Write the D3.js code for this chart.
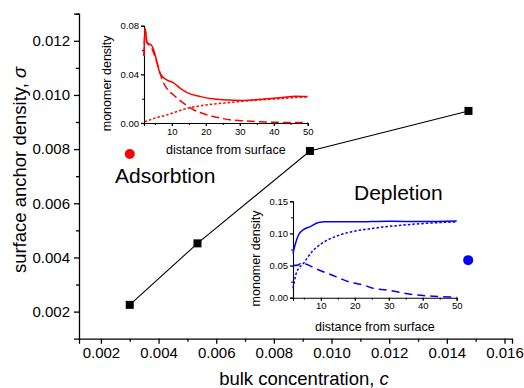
<!DOCTYPE html>
<html>
<head>
<meta charset="utf-8">
<script src="https://cdn.jsdelivr.net/npm/d3@7"></script>
<style>
  body { margin: 0; background: #fff; }
  svg text { font-family: Arial, "Liberation Sans", sans-serif; fill: #000; }
</style>
</head>
<body>
<svg id="chart" width="524" height="388"></svg>
<script>
// main plot data
const bulkConc = [0.003, 0.00535, 0.00925, 0.01475];
const anchorDensity = [0.00225, 0.00452, 0.00793, 0.00941];
const xTicks = [0.002, 0.004, 0.006, 0.008, 0.010, 0.012, 0.014, 0.016];
const yTicks = [0.002, 0.004, 0.006, 0.008, 0.010, 0.012];
const adsorbDot = [0.003, 0.00782];
const depleteDot = [0.01474, 0.0039];

// adsorption inset (red)
const adsDist = [1.8, 2.1, 2.7, 4, 5, 5.7, 6.5, 8.5, 10.5, 12.5, 14.5, 18.5, 22.5, 27, 30.5, 36.5, 42.5, 46.5, 50];
const adsTotal = [0.055, 0.078, 0.066, 0.064, 0.057, 0.049, 0.041, 0.0354, 0.033, 0.0285, 0.025, 0.0217, 0.0197, 0.0189, 0.0186, 0.0195, 0.021, 0.022, 0.0217];
const adsLoopDist = [1.8, 2.1, 2.7, 4, 4.5, 6, 7, 8.5, 10.5, 13.5, 16.5, 20.5, 24.5, 27.5, 30.5, 36, 42, 50];
const adsLoops = [0.055, 0.077, 0.066, 0.062, 0.0587, 0.046, 0.0367, 0.0285, 0.023, 0.0162, 0.0107, 0.0066, 0.0039, 0.0025, 0.0019, 0.001, 0.0005, 0.0003];
const adsTailDist = [2, 5, 8.5, 10, 14.5, 20, 25, 30, 35, 40, 45, 50];
const adsTails = [0.001, 0.004, 0.0066, 0.008, 0.012, 0.0148, 0.0163, 0.0177, 0.0188, 0.0197, 0.0207, 0.0215];

// depletion inset (blue)
const depDist = [1.8, 2.4, 3.4, 4.9, 6.9, 9.3, 11.3, 20, 30, 40, 50];
const depTotal = [0.069, 0.082, 0.0975, 0.106, 0.1105, 0.117, 0.118, 0.118, 0.119, 0.1185, 0.1195];
const depLoopDist = [1.8, 3.4, 4.2, 4.9, 8.8, 14.2, 19.1, 22.5, 25.5, 29.4, 36.3, 43.1, 50];
const depLoops = [0.05, 0.051, 0.054, 0.0535, 0.0445, 0.0332, 0.0235, 0.0198, 0.0145, 0.012, 0.0053, 0.0022, 0.0008];
const depTailDist = [1.8, 2.9, 4.9, 7.4, 10.3, 14.2, 19.1, 25.5, 34.3, 44.1, 50];
const depTails = [0.0146, 0.040, 0.0535, 0.0716, 0.0846, 0.095, 0.1027, 0.108, 0.113, 0.1167, 0.118];

const insetXTicks = [10, 20, 30, 40, 50];
const insetXMinor = [5, 15, 25, 35, 45];
const adsYTicks = [0, 0.04, 0.08];
const adsYMinor = [0.02, 0.06];
const depYTicks = [0, 0.05, 0.10, 0.15];
const depYMinor = [0.025, 0.075, 0.125];

const svg = d3.select("#chart");

// ---- main axes
const x = d3.scaleLinear().domain([0.00124, 0.01626]).range([79, 512]);
const y = d3.scaleLinear().domain([0.001, 0.013]).range([338.7, 13.7]);

const xMinor = d3.range(0.003, 0.0155, 0.002);
const yMinor = d3.range(0.003, 0.0135, 0.002);

function styleAxis(g, size) {
  g.select(".domain").attr("stroke", "#000").attr("stroke-width", 1.3);
  g.selectAll(".tick line").attr("stroke", "#000").attr("stroke-width", 1.3);
  g.selectAll(".tick text").style("font-size", size + "px");
}

const gx = svg.append("g").attr("transform", "translate(0,338.7)")
  .call(d3.axisBottom(x).tickValues(xTicks).tickFormat(d3.format(".3f")).tickSizeOuter(0).tickSize(5).tickPadding(4));
styleAxis(gx, 15);
svg.append("g").attr("transform", "translate(0,338.7)")
  .call(d3.axisBottom(x).tickValues(xMinor).tickFormat("").tickSize(3).tickSizeOuter(0))
  .call(g => { g.select(".domain").remove(); g.selectAll("line").attr("stroke", "#000").attr("stroke-width", 1.3); });

const gy = svg.append("g").attr("transform", "translate(79,0)")
  .call(d3.axisLeft(y).tickValues(yTicks).tickFormat(d3.format(".3f")).tickSizeOuter(0).tickSize(5).tickPadding(4));
styleAxis(gy, 15);
svg.append("g").attr("transform", "translate(79,0)")
  .call(d3.axisLeft(y).tickValues(yMinor).tickFormat("").tickSize(3).tickSizeOuter(0))
  .call(g => { g.select(".domain").remove(); g.selectAll("line").attr("stroke", "#000").attr("stroke-width", 1.3); });

const xl = svg.append("text").attr("x", 304).attr("y", 385).attr("text-anchor", "middle").style("font-size", "18.5px");
xl.append("tspan").text("bulk concentration, ");
xl.append("tspan").style("font-style", "italic").text("c");

const yl = svg.append("text").attr("transform", "translate(26,170) rotate(-90)").attr("text-anchor", "middle").style("font-size", "18.5px");
yl.append("tspan").text("surface anchor density, ");
yl.append("tspan").style("font-style", "italic").text("σ");

// main line with square markers
const pts = bulkConc.map((c, i) => [c, anchorDensity[i]]);
svg.append("path").datum(pts)
  .attr("d", d3.line().x(d => x(d[0])).y(d => y(d[1])))
  .attr("fill", "none").attr("stroke", "#000").attr("stroke-width", 1.1);
svg.selectAll(".sq").data(pts).enter().append("rect")
  .attr("x", d => x(d[0]) - 4).attr("y", d => y(d[1]) - 4)
  .attr("width", 8).attr("height", 8).attr("fill", "#000");

svg.append("circle").attr("cx", x(adsorbDot[0])).attr("cy", y(adsorbDot[1])).attr("r", 5).attr("fill", "#ff0000");
svg.append("circle").attr("cx", x(depleteDot[0])).attr("cy", y(depleteDot[1])).attr("r", 5).attr("fill", "#0000ff");

svg.append("text").attr("x", 115).attr("y", 183).style("font-size", "21px").text("Adsorbtion");
svg.append("text").attr("x", 354).attr("y", 200).style("font-size", "21px").text("Depletion");

// ---- insets
function inset(opts) {
  const ix = d3.scaleLinear().domain([1.8, 50]).range(opts.xr);
  const iy = d3.scaleLinear().domain(opts.yd).range(opts.yr);
  const g = svg.append("g");
  const ax = g.append("g").attr("transform", `translate(0,${opts.yr[0]})`)
    .call(d3.axisBottom(ix).tickValues(insetXTicks).tickSizeOuter(0).tickSize(3).tickPadding(2));
  styleAxis(ax, 9.5);
  ax.select(".domain").attr("stroke-width", 1.1);
  g.append("g").attr("transform", `translate(0,${opts.yr[0]})`)
    .call(d3.axisBottom(ix).tickValues(insetXMinor).tickFormat("").tickSize(2).tickSizeOuter(0))
    .call(a => { a.select(".domain").remove(); a.selectAll("line").attr("stroke", "#000"); });
  const ay = g.append("g").attr("transform", `translate(${opts.xr[0]},0)`)
    .call(d3.axisLeft(iy).tickValues(opts.yt).tickFormat(d3.format(".2f")).tickSizeOuter(0).tickSize(3).tickPadding(2));
  styleAxis(ay, 9.5);
  ay.select(".domain").attr("stroke-width", 1.1);
  g.append("g").attr("transform", `translate(${opts.xr[0]},0)`)
    .call(d3.axisLeft(iy).tickValues(opts.ym).tickFormat("").tickSize(2).tickSizeOuter(0))
    .call(a => { a.select(".domain").remove(); a.selectAll("line").attr("stroke", "#000"); });

  const line = d3.line().x(d => ix(d[0])).y(d => iy(d[1])).curve(d3.curveMonotoneX);
  opts.series.forEach(s => {
    g.append("path").datum(s.xs.map((v, i) => [v, s.ys[i]]))
      .attr("d", line).attr("fill", "none").attr("stroke", opts.color)
      .attr("stroke-width", 1.5).attr("stroke-dasharray", s.dash);
  });

  g.append("text").attr("x", (opts.xr[0] + opts.xr[1]) / 2).attr("y", opts.yr[0] + opts.xlDy)
    .attr("text-anchor", "middle").style("font-size", "12.5px").text("distance from surface");
  g.append("text").attr("transform", `translate(${opts.xr[0] - 33},${(opts.yr[0] + opts.yr[1]) / 2 + 9}) rotate(-90)`)
    .attr("text-anchor", "middle").style("font-size", "12.5px").text("monomer density");
}

inset({
  xr: [144, 307.7], yd: [0, 0.08], yr: [123, 25.7], yt: adsYTicks, ym: adsYMinor,
  color: "#ff0000", xlDy: 31,
  series: [
    { xs: adsDist, ys: adsTotal, dash: null },
    { xs: adsLoopDist, ys: adsLoops, dash: "8,4" },
    { xs: adsTailDist, ys: adsTails, dash: "2.5,2" }
  ]
});

inset({
  xr: [293, 456.7], yd: [0, 0.15], yr: [297.7, 201.3], yt: depYTicks, ym: depYMinor,
  color: "#0000ff", xlDy: 33,
  series: [
    { xs: depDist, ys: depTotal, dash: null },
    { xs: depLoopDist, ys: depLoops, dash: "8,5" },
    { xs: depTailDist, ys: depTails, dash: "2.5,2" }
  ]
});
</script>
</body>
</html>
